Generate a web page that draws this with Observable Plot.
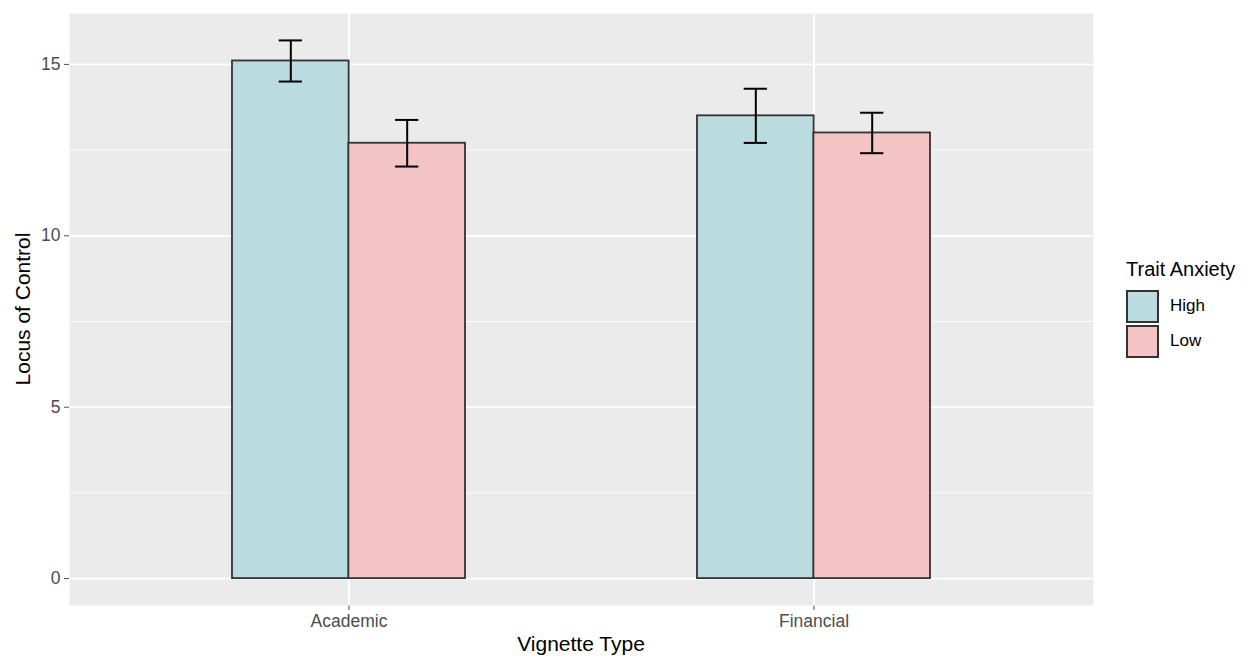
<!DOCTYPE html>
<html>
<head>
<meta charset="utf-8">
<script src="https://cdn.jsdelivr.net/npm/d3@7"></script>
<script src="https://cdn.jsdelivr.net/npm/@observablehq/plot@0.6"></script>
<style>
  html, body { margin: 0; padding: 0; background: white; }
  #wrap { position: relative; width: 1250px; height: 658px; font-family: "Liberation Sans", Arial, sans-serif; }
  #wrap svg { position: absolute; left: 0; top: 0; }
  .lbl { position: absolute; white-space: nowrap; color: #000; }
</style>
</head>
<body>
<div id="wrap"></div>
<script>
// ---- data ----
const vignettes = ["Academic", "Financial"];
const anxietyLevels = ["High", "Low"];
const highMean = [15.1, 13.5];
const highSE   = [0.6, 0.79];
const lowMean  = [12.7, 13.0];
const lowSE    = [0.68, 0.59];
const yTicks = [0, 5, 10, 15];
const yMinor = [2.5, 7.5, 12.5];
const colors = ["#BADCE0", "#F4C3C3"];

const high = vignettes.map((v, i) => ({vignette: v, anxiety: "High", mean: highMean[i], lo: highMean[i] - highSE[i], hi: highMean[i] + highSE[i]}));
const low  = vignettes.map((v, i) => ({vignette: v, anxiety: "Low",  mean: lowMean[i],  lo: lowMean[i] - lowSE[i],  hi: lowMean[i] + lowSE[i]}));

// ---- layout ----
const W = 1250, H = 658;
const mL = 69, mR = 157, mT = 13, mB = 53;
const pInner = 0.5, pOuter = 0.35;
const step = (W - mL - mR) / (vignettes.length - pInner + 2 * pOuter);
const bw = step * (1 - pInner);
const capHalf = 11.5;

const yMax = Math.max(...high.map(d => d.hi), ...low.map(d => d.hi));
const pad = yMax * 0.05;

function errBars(data, side) {
  const off = side * bw / 4;
  const center = bw / 2 + off;
  return [
    Plot.ruleX(data, {x: "vignette", y1: "lo", y2: "hi", dx: off, stroke: "#000", strokeWidth: 2}),
    Plot.tickY(data, {x: "vignette", y: "lo", insetLeft: center - capHalf, insetRight: bw - center - capHalf, stroke: "#000", strokeWidth: 2}),
    Plot.tickY(data, {x: "vignette", y: "hi", insetLeft: center - capHalf, insetRight: bw - center - capHalf, stroke: "#000", strokeWidth: 2})
  ];
}

const chart = Plot.plot({
  width: W, height: H,
  marginLeft: mL, marginRight: mR, marginTop: mT, marginBottom: mB,
  style: {fontSize: "17.5px", fontFamily: "'Liberation Sans', Arial, sans-serif", color: "#4D4D4D", background: "transparent"},
  x: {domain: vignettes, paddingInner: pInner, paddingOuter: pOuter, label: null, tickSize: 5, tickPadding: 4},
  y: {domain: [-pad, yMax + pad], ticks: yTicks, label: null, tickSize: 5, tickPadding: 4},
  marks: [
    Plot.frame({fill: "#EBEBEB", stroke: "none"}),
    Plot.ruleY(yMinor, {stroke: "#FFFFFF", strokeWidth: 0.9}),
    Plot.ruleY(yTicks, {stroke: "#FFFFFF", strokeWidth: 1.8}),
    Plot.ruleX(vignettes, {x: d => d, stroke: "#FFFFFF", strokeWidth: 1.8}),
    Plot.barY(high, {x: "vignette", y1: 0, y2: "mean", fill: colors[0], stroke: "#333333", strokeWidth: 1.8, insetRight: bw / 2}),
    Plot.barY(low,  {x: "vignette", y1: 0, y2: "mean", fill: colors[1], stroke: "#333333", strokeWidth: 1.8, insetLeft: bw / 2}),
    ...errBars(high, -1),
    ...errBars(low, 1)
  ]
});

const wrap = document.getElementById("wrap");
wrap.appendChild(chart);

function addLabel(text, css) {
  const d = document.createElement("div");
  d.className = "lbl";
  d.textContent = text;
  Object.assign(d.style, css);
  wrap.appendChild(d);
  return d;
}

// axis titles
addLabel("Vignette Type", {fontSize: "21px", left: (mL + (W - mR)) / 2 + "px", top: "632px", transform: "translateX(-50%)"});
addLabel("Locus of Control", {fontSize: "21px", left: "23px", top: (mT + (H - mB)) / 2 + "px", transform: "translate(-50%, -50%) rotate(-90deg)"});

// legend
addLabel("Trait Anxiety", {fontSize: "20px", left: "1126px", top: "258px"});
anxietyLevels.forEach((lev, i) => {
  const top = 290 + i * 34.5;
  const sw = document.createElement("div");
  Object.assign(sw.style, {position: "absolute", left: "1126px", top: top + "px", width: "29px", height: "29px", background: colors[i], border: "2px solid #333"});
  wrap.appendChild(sw);
  addLabel(lev, {fontSize: "17px", left: "1170px", top: (top + 6) + "px"});
});
</script>
</body>
</html>
